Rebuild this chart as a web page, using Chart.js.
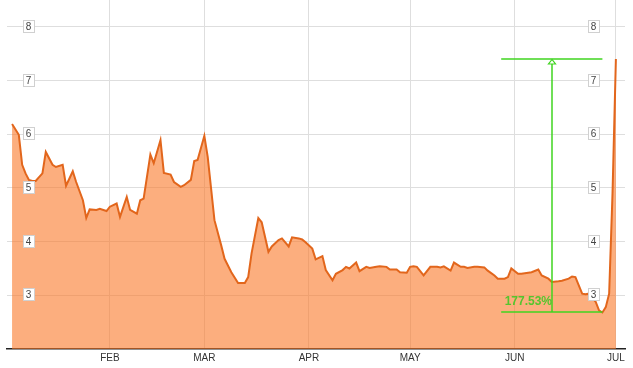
<!DOCTYPE html>
<html>
<head>
    <title>Price Chart</title>
    <script src="https://cdn.jsdelivr.net/npm/chart.js"></script>
    <style>
        html, body { margin: 0; padding: 0; background: #fff; }
        #wrap { width: 633px; height: 368px; }
    </style>
</head>
<body>
    <div id="wrap"><canvas id="myChart" width="633" height="368"></canvas></div>

    <script>
        // day of year (Jan 1 = 0) and closing value
        const days = [2, 4, 5, 6, 7, 8, 9, 11, 12, 14, 15, 17, 18, 20, 21, 23, 24, 25, 27, 28,
            30, 31, 33, 34, 36, 37, 39, 40, 41, 43, 44, 46, 47, 49, 50, 52, 53, 55, 56, 57,
            59, 60, 62, 64, 65, 67, 69, 71, 72, 73, 75, 76, 78, 79, 81, 82, 84, 85, 87, 88,
            89, 91, 92, 94, 95, 97, 98, 100, 101, 102, 104, 105, 107, 108, 110, 111, 113, 114, 116, 117,
            119, 120, 121, 122, 124, 126, 128, 129, 130, 132, 133, 135, 136, 137, 139, 140, 142, 143, 145, 146,
            148, 149, 150, 152, 153, 155, 156, 158, 159, 161, 162, 164, 165, 167, 168, 169, 171, 172, 173, 175,
            176, 177, 178, 179, 180, 181];
        const values = [6.19, 5.99, 5.43, 5.27, 5.15, 5.13, 5.13, 5.27, 5.67, 5.43, 5.39, 5.43, 5.04, 5.31, 5.11, 4.77, 4.44, 4.60, 4.59, 4.61,
            4.57, 4.65, 4.71, 4.46, 4.83, 4.59, 4.52, 4.77, 4.80, 5.62, 5.46, 5.89, 5.28, 5.25, 5.11, 5.02, 5.05, 5.15, 5.50, 5.52,
            5.97, 5.58, 4.40, 3.93, 3.68, 3.43, 3.23, 3.23, 3.34, 3.78, 4.44, 4.36, 3.81, 3.91, 4.03, 4.06, 3.91, 4.08, 4.06, 4.04,
            3.99, 3.87, 3.67, 3.73, 3.47, 3.28, 3.40, 3.47, 3.53, 3.50, 3.61, 3.45, 3.53, 3.51, 3.53, 3.54, 3.53, 3.48, 3.48, 3.43,
            3.42, 3.53, 3.54, 3.53, 3.37, 3.53, 3.53, 3.52, 3.54, 3.46, 3.61, 3.53, 3.53, 3.51, 3.53, 3.53, 3.52, 3.46, 3.37, 3.31,
            3.31, 3.34, 3.50, 3.40, 3.40, 3.42, 3.43, 3.48, 3.37, 3.31, 3.25, 3.26, 3.27, 3.31, 3.35, 3.34, 3.03, 3.02, 3.03, 2.88,
            2.72, 2.68, 2.78, 3.03, 4.90, 7.40];

        // month gridlines on the x axis
        const monthStarts = [31, 59, 90, 120, 151, 181];
        const monthLabels = ['FEB', 'MAR', 'APR', 'MAY', 'JUN', 'JUL'];
        const yTicks = [3, 4, 5, 6, 7, 8];

        // measured move
        const moveFromDay = 147, moveToDay = 177, moveArrowDay = 162;
        const moveLow = 2.68, moveHigh = 7.40;
        const moveLabel = '177.53%';

        const green = '#3fd41f';

        const yLabelBoxes = {
            id: 'yLabelBoxes',
            afterDraw(chart) {
                const ctx = chart.ctx;
                const y = chart.scales.y;
                const area = chart.chartArea;
                ctx.save();
                ctx.font = '10px "Liberation Sans", Arial, sans-serif';
                ctx.textAlign = 'center';
                ctx.textBaseline = 'middle';
                y.ticks.forEach(t => {
                    const py = Math.round(y.getPixelForValue(t.value));
                    [area.left + 21, area.right - 32].forEach(cx => {
                        const txt = String(t.value);
                        const w = ctx.measureText(txt).width + 5;
                        ctx.fillStyle = '#fff';
                        ctx.fillRect(Math.round(cx - w / 2) + 0.5, py - 6.5, Math.round(w), 12);
                        ctx.strokeStyle = '#d0d0d0';
                        ctx.lineWidth = 1;
                        ctx.strokeRect(Math.round(cx - w / 2) + 0.5, py - 6.5, Math.round(w), 12);
                        ctx.fillStyle = '#444';
                        ctx.fillText(txt, cx + 0.5, py);
                    });
                });
                ctx.restore();
            }
        };

        const moveAnnotation = {
            id: 'moveAnnotation',
            afterDatasetsDraw(chart) {
                const ctx = chart.ctx;
                const x = chart.scales.x, y = chart.scales.y;
                const x1 = x.getPixelForValue(moveFromDay);
                const x2 = x.getPixelForValue(moveToDay);
                const xa = Math.round(x.getPixelForValue(moveArrowDay));
                const yLow = Math.round(y.getPixelForValue(moveLow));
                const yHigh = Math.round(y.getPixelForValue(moveHigh));
                ctx.save();
                ctx.strokeStyle = green;
                ctx.lineWidth = 1.5;
                ctx.beginPath();
                ctx.moveTo(x1, yHigh); ctx.lineTo(x2, yHigh);
                ctx.stroke();
                ctx.beginPath();
                ctx.moveTo(x1, yLow); ctx.lineTo(x2, yLow);
                ctx.stroke();
                ctx.beginPath();
                ctx.moveTo(xa, yLow); ctx.lineTo(xa, yHigh + 5);
                ctx.stroke();
                // open arrow head
                ctx.lineWidth = 1.2;
                ctx.beginPath();
                ctx.moveTo(xa, yHigh + 0.5);
                ctx.lineTo(xa - 3.5, yHigh + 5);
                ctx.lineTo(xa + 3.5, yHigh + 5);
                ctx.closePath();
                ctx.fillStyle = '#fff';
                ctx.fill();
                ctx.stroke();
                ctx.fillStyle = '#55c52e';
                ctx.font = 'bold 12px "Liberation Sans", Arial, sans-serif';
                ctx.textAlign = 'right';
                ctx.textBaseline = 'middle';
                ctx.fillText(moveLabel, xa, yLow - 10);
                ctx.restore();
            }
        };

        const ctx = document.getElementById('myChart').getContext('2d');
        const myChart = new Chart(ctx, {
            type: 'line',
            data: {
                datasets: [{
                    label: 'Price',
                    data: days.map((d, i) => ({ x: d, y: values[i] })),
                    borderColor: '#e2661c',
                    backgroundColor: 'rgba(250, 120, 40, 0.6)',
                    borderWidth: 2,
                    pointRadius: 0,
                    tension: 0,
                    fill: 'start'
                }]
            },
            options: {
                responsive: false,
                animation: false,
                layout: { padding: { left: 7, right: 8, top: 0, bottom: 0 } },
                plugins: {
                    legend: { display: false },
                    tooltip: { enabled: false }
                },
                scales: {
                    x: {
                        type: 'linear',
                        min: 0.5,
                        max: 183.7,
                        afterBuildTicks: scale => {
                            scale.ticks = monthStarts.map(v => ({ value: v }));
                        },
                        afterFit: scale => { scale.height = 19; },
                        grid: { color: '#dedede', lineWidth: 1, drawTicks: false },
                        border: { color: '#222', width: 1.5 },
                        ticks: {
                            padding: 3,
                            maxRotation: 0,
                            autoSkip: false,
                            color: '#333',
                            font: { family: '"Liberation Sans", Arial, sans-serif', size: 10 },
                            callback: (value, index) => monthLabels[index]
                        }
                    },
                    y: {
                        min: 2,
                        max: 8.5,
                        afterBuildTicks: scale => {
                            scale.ticks = yTicks.map(v => ({ value: v }));
                        },
                        afterFit: scale => { scale.width = 0; },
                        grid: { color: '#dedede', lineWidth: 1, drawTicks: false },
                        border: { display: false },
                        ticks: { display: false }
                    }
                }
            },
            plugins: [moveAnnotation, yLabelBoxes]
        });
    </script>
</body>
</html>
